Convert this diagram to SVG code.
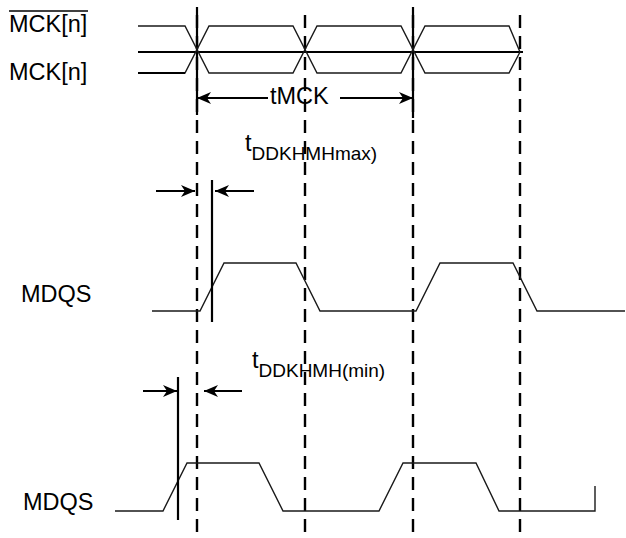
<svg xmlns="http://www.w3.org/2000/svg" width="626" height="538" viewBox="0 0 626 538">
<style>
.lbl{font-family:"Liberation Sans",Arial,sans-serif;font-size:23.5px;fill:#000}
.sub{font-size:19px}
.wave{fill:none;stroke:#1a1a1a;stroke-width:1.4;stroke-linejoin:miter}
.dash{stroke:#000;stroke-width:2.4;stroke-dasharray:13 8;stroke-dashoffset:13}
.solid{stroke:#000;stroke-width:2.2}
.arr{stroke:#000;stroke-width:2;fill:none}
</style>
<defs>
<marker id="ah" viewBox="0 0 14 12" refX="14" refY="6" markerWidth="14" markerHeight="12" orient="auto" markerUnits="userSpaceOnUse">
<path d="M0,0 L14,6 L0,12 L4,6 z" fill="#000"/>
</marker>
</defs>
<rect width="626" height="538" fill="#fff"/>

<g id="gridlines">
<line class="dash" x1="197" y1="7" x2="197" y2="538"/>
<line class="dash" x1="305" y1="7" x2="305" y2="538"/>
<line class="dash" x1="413" y1="7" x2="413" y2="538"/>
<line class="dash" x1="520" y1="7" x2="520" y2="538"/>
<line class="solid" x1="197" y1="7" x2="197" y2="115" stroke-width="3"/>
<line class="solid" x1="413" y1="7" x2="413" y2="118"/>
</g>

<g id="clock">
<text class="lbl" x="9" y="32">MCK[n]</text>
<line x1="9" y1="11" x2="88" y2="11" stroke="#000" stroke-width="1.6"/>
<text class="lbl" x="9" y="80">MCK[n]</text>
<line x1="138" y1="52" x2="523" y2="52" stroke="#000" stroke-width="2"/>
<polyline class="wave" points="138,26 185,26 209,73 293,73 317,26 401,26 425,73 509,73 520,52"/>
<polyline class="wave" points="138,73 185,73 209,26 293,26 317,73 401,73 425,26 509,26 520,52"/>
<line x1="138" y1="73" x2="185" y2="73" stroke="#000" stroke-width="2"/>
</g>

<g id="tmck">
<line class="arr" x1="268" y1="98" x2="197" y2="98" marker-end="url(#ah)"/>
<text class="lbl" x="270" y="104" font-size="25">tMCK</text>
<line class="arr" x1="340" y1="98" x2="413" y2="98" marker-end="url(#ah)"/>
</g>

<g id="mdqs1">
<text class="lbl" x="21" y="302">MDQS</text>
<polyline class="wave" points="152,311 200,311 224,263 296,263 320,311 416,311 440,263 513,263 537,311 625,311"/>
<line class="solid" x1="212" y1="180" x2="212" y2="322"/>
<line class="arr" x1="156" y1="191" x2="195" y2="191" marker-end="url(#ah)"/>
<line class="arr" x1="254" y1="191" x2="215" y2="191" marker-end="url(#ah)"/>
<text class="lbl" x="245" y="151">t<tspan class="sub" dy="9">DDKHMHmax)</tspan></text>
</g>

<g id="mdqs2">
<text class="lbl" x="23" y="510">MDQS</text>
<polyline class="wave" points="115,511 163,511 187,463 259,463 283,511 379,511 403,463 476,463 499,511 595,511 595,486"/>
<line class="solid" x1="178" y1="377" x2="178" y2="520"/>
<line class="arr" x1="143" y1="391" x2="177" y2="391" marker-end="url(#ah)"/>
<line class="arr" x1="242" y1="391" x2="204" y2="391" marker-end="url(#ah)"/>
<text class="lbl" x="252" y="368">t<tspan class="sub" dy="9">DDKHMH(min)</tspan></text>
</g>
</svg>
